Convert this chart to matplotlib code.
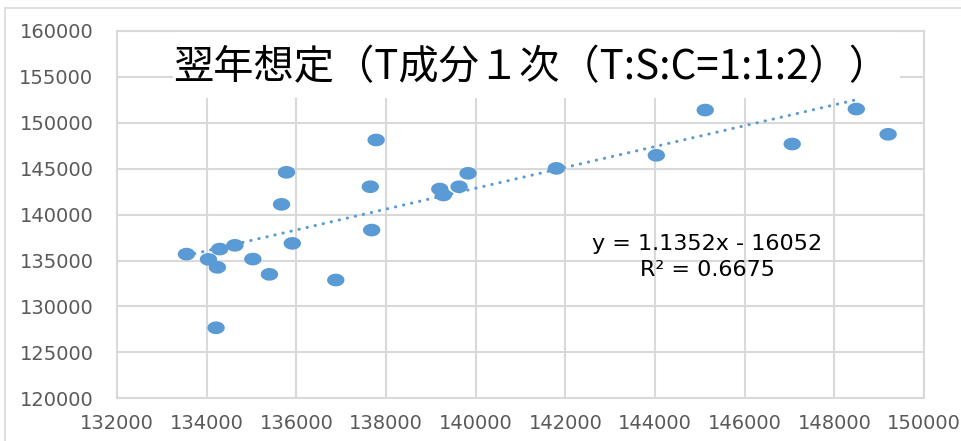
import numpy as np
import matplotlib
matplotlib.use("Agg")
from matplotlib import pyplot as plt
from matplotlib.path import Path
from matplotlib.patches import Rectangle

# 前年値 (x) と翌年値 (y)
x_vals = [133550, 134040, 134240, 134210, 134290, 134630, 135030, 135400, 135910,
          136880, 137680, 135670, 135780, 137650, 137780, 139200, 139280, 139630,
          139830, 141800, 144030, 145120, 147060, 148490, 149200]
y_vals = [135700, 135130, 134260, 127680, 136250, 136660, 135160, 133500, 136870,
          132880, 138320, 141120, 144610, 143040, 148130, 142790, 142140, 143040,
          144500, 145040, 146460, 151390, 147690, 151500, 148750]

slope = 1.1352
intercept = -16052
r2 = 0.6675

title = "翌年想定（T成分１次（T:S:C=1:1:2））"
x_ticks = list(range(132000, 150001, 2000))
y_ticks = list(range(120000, 160001, 5000))

blue = "#5B9BD5"
grid_c = "#D9D9D9"
tick_c = "#595959"

fig = plt.figure(figsize=(9.61, 4.41), dpi=100)
ax = fig.add_axes([117 / 961, 1 - 398.3 / 441, 807 / 961, 367.3 / 441])

# chart area border
fig.patches.append(Rectangle((5 / 961, -0.1), 1.2, 1 - 8 / 441 + 0.1,
                             transform=fig.transFigure, fill=False,
                             edgecolor=grid_c, linewidth=1.2))

# slightly squashed circle, like the Excel markers
t = np.linspace(0, 2 * np.pi, 60)
ellipse = Path(np.column_stack([np.cos(t), 0.73 * np.sin(t)]), closed=True)

ax.scatter(x_vals, y_vals, s=12.5 ** 2, marker=ellipse, color=blue,
           edgecolors="none", zorder=3)

# linear trendline from the stated coefficients
xs = np.sort(np.array(x_vals))
fit_x = np.array([xs[0], xs[-2] + 60])
ax.plot(fit_x, slope * fit_x + intercept, color=blue, lw=2.2,
        linestyle=(0, (0.1, 2.6)), dash_capstyle="round", zorder=2.8)

ax.set_xlim(132000, 150000)
ax.set_ylim(120000, 160000)
ax.set_xticks(x_ticks)
ax.set_yticks(y_ticks)
ax.set_xticklabels([str(v) for v in x_ticks])
ax.set_yticklabels([str(v) for v in y_ticks])
ax.tick_params(length=0, labelsize=14, colors=tick_c)
ax.tick_params(axis="y", pad=17)
ax.tick_params(axis="x", pad=11)
ax.grid(True, color=grid_c, lw=1.5)
ax.set_axisbelow(True)
for s in ax.spines.values():
    s.set_color(grid_c)
    s.set_linewidth(1.5)

# white panel behind the title
ax.add_patch(Rectangle(((173 - 117) / 807, (398.3 - 98) / 367.3),
                       (900 - 173) / 807, (98 - 32) / 367.3,
                       transform=ax.transAxes, facecolor="white",
                       edgecolor="none", zorder=1))
ax.text((531 - 117) / 807, (398.3 - 68) / 367.3, title, transform=ax.transAxes,
        ha="center", va="center", fontsize=29,
        family=["Noto Sans CJK JP", "DejaVu Sans"], color="black", zorder=4)

ax.text((707 - 117) / 807, (398.3 - 257) / 367.3,
        f"y = {slope}x - {abs(intercept)}\nR² = {r2}",
        transform=ax.transAxes, ha="center", va="center", fontsize=16,
        linespacing=1.35, color="black", zorder=4)

fig.savefig("out.png", dpi=100)
